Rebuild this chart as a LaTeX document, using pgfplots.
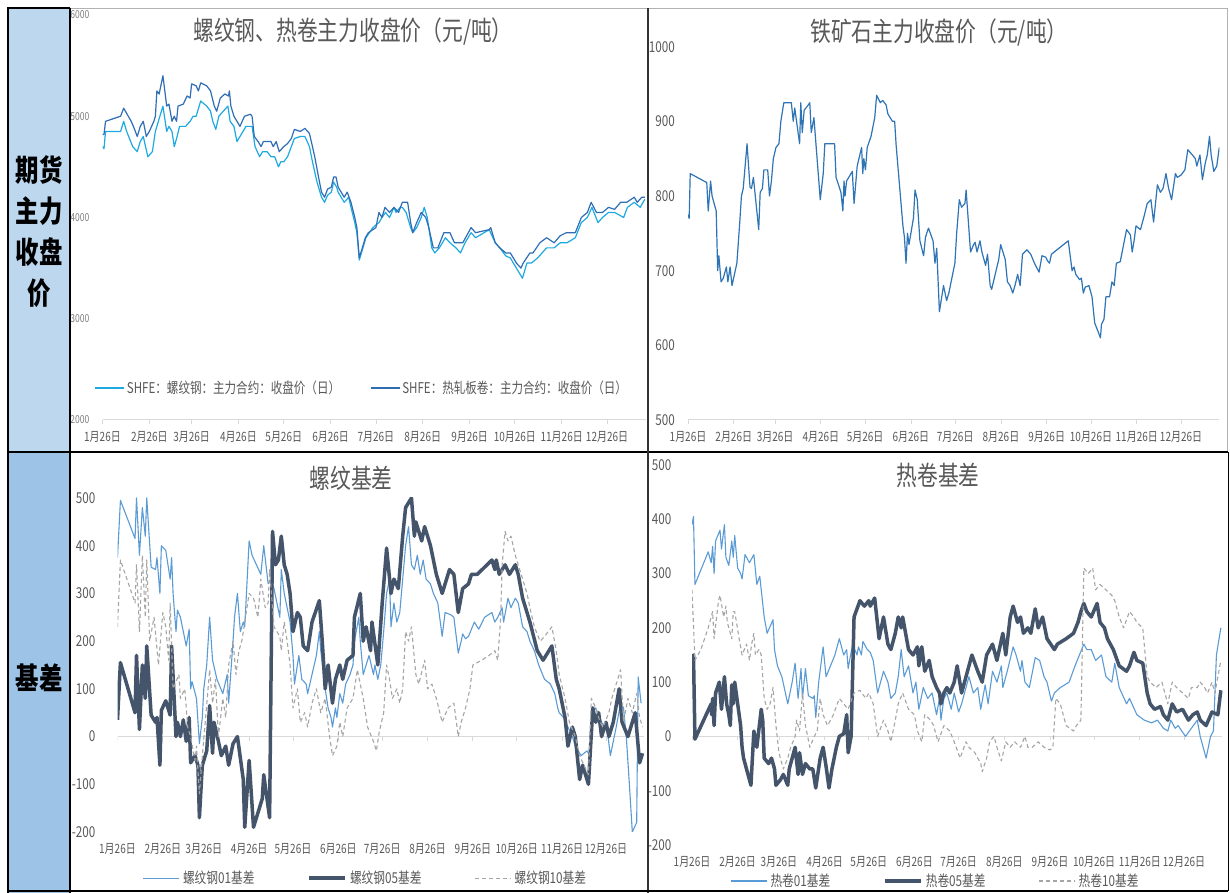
\documentclass[border=0pt]{standalone}
\usepackage{fontspec}
\setmainfont{Noto Sans CJK SC}[FakeStretch=0.78]
\usepackage{pgfplots}
\pgfplotsset{compat=1.18}
\definecolor{rebar}{HTML}{1FA9E1}
\definecolor{hrc}{HTML}{2F6EB5}
\definecolor{ore}{HTML}{2F74B5}
\definecolor{b01}{HTML}{5B9BD5}
\definecolor{b05}{HTML}{44546A}
\definecolor{b10}{HTML}{A5A5A5}
\definecolor{axisgray}{HTML}{D9D9D9}
\definecolor{labelgray}{HTML}{595959}
\definecolor{cellA}{HTML}{BDD7EE}
\definecolor{cellB}{HTML}{9DC3E6}
\newcommand\fs[1]{\fontsize{#1}{#1}\selectfont}

\pgfplotsset{
  panel/.style={
    scale only axis, xmin=0, xmax=360,
    axis x line*=bottom, axis y line*=left,
    x axis line style={draw=axisgray, line width=1pt, -},
    y axis line style={draw=none},
    ytick style={draw=none},
    xtick style={draw=axisgray, line width=0.8pt},
    tick align=outside, major tick length=4pt,
    xtick={0,31,59,90,120,151,181,212,243,273,304,334},
    xticklabels={1月26日,2月26日,3月26日,4月26日,5月26日,6月26日,7月26日,8月26日,9月26日,10月26日,11月26日,12月26日},
    xticklabel style={font=\fs{12.8}, text=labelgray, anchor=center, yshift=-13pt},
    yticklabel style={text=labelgray, anchor=east, inner sep=0pt},
    legend cell align=left,
    every axis plot/.append style={line join=round},
  },
  basis/.style={
    panel,
    ymin=-200, ymax=500,
    ytick={-200,-100,0,100,200,300,400,500},
    yticklabels={-200,-100,0,100,200,300,400,500},
    yticklabel style={font=\fs{15}},
    x axis line style={draw=none},
    xtick style={draw=none},
    legend columns=3,
    legend style={draw=none, fill=none, font=\fs{15}, text=labelgray,
      nodes={inner xsep=3pt, inner ysep=0pt},
      /tikz/every even column/.append style={column sep=50pt}},
    legend image code/.code={\draw[#1] (0pt,0pt) -- (36pt,0pt);},
  },
}

\begin{document}
\begin{tikzpicture}[x=1pt,y=1pt]
\useasboundingbox (0,0) rectangle (1230,893);
\fill[white] (0,0) rectangle (1230,893);
% left column cells
\fill[cellA] (8,441) rectangle (70,885);
\fill[cellB] (8,0) rectangle (70,441);
% chart frames
\draw[gray!60, line width=0.8pt] (70,441) rectangle (648,885);
\draw[gray!60, line width=0.8pt] (648,441) rectangle (1227,885);

% ---------- rebar & hrc prices
\begin{axis}[panel, at={(102.5pt,473pt)}, anchor=south west,
  width=543.8pt, height=405pt,
  ymin=2000, ymax=6000, ytick={2000,3000,4000,5000,6000},
  yticklabels={2000,3000,4000,5000,6000},
  yticklabel style={font=\fs{11}, text=gray, xshift=-9pt},
  legend columns=2,
  legend style={at={(0.477,0.079)}, anchor=center, draw=none, fill=none,
    font=\fs{14.8}, text=labelgray, nodes={inner xsep=2pt, inner ysep=0pt},
    /tikz/every even column/.append style={column sep=28pt}},
  legend image code/.code={\draw[#1] (0pt,0pt) -- (29pt,0pt);},
]
\addplot[rebar, line width=1.2pt] coordinates {
(0,4700)(1,4680)(2,4850)(12,4850)(14,4950)(16,4850)(20,4700)(23,4650)(25,4750)(27,4800)(30,4600)(33,4650)(35,4850)(36,4900)(40,5100)(42.5,4850)(44,4900)(46,4850)(47.5,4700)(49.4,4800)(51,4900)(55,4900)(58,4950)(60,5000)(62,5000)(65,5150)(69,5100)(71.5,5050)(73,4950)(75,4870)(77,5000)(80,5050)(83,5100)(84.5,4950)(87,4900)(89,4750)(91,4800)(95,4900)(99,4900)(101,4700)(104,4600)(106,4650)(109,4650)(111.5,4600)(114,4600)(116.5,4500)(118,4550)(120,4550)(122.5,4600)(125,4700)(127,4780)(131,4800)(134,4800)(137,4700)(139,4550)(142,4350)(145,4200)(147,4150)(149,4220)(151.5,4250)(153,4350)(155,4300)(156,4250)(160,4150)(163,4200)(164.5,4100)(167,3950)(168.4,3850)(170,3580)(172,3680)(174.4,3800)(179,3900)(183,3950)(185,4000)(187.4,4050)(190,4000)(193,4100)(194.3,4050)(197,4100)(198.5,4100)(201,4050)(204,3900)(205.4,3850)(208,3900)(211,4000)(213,4100)(215,4000)(218,3700)(220,3650)(223,3700)(227,3800)(230,3750)(234,3700)(237,3650)(240,3750)(244,3850)(247,3800)(256,3880)(260,3750)(263,3700)(267,3620)(270,3600)(274,3500)(278,3400)(281,3550)(284,3550)(288,3600)(294,3700)(299,3700)(303,3750)(307.5,3750)(313,3800)(317,3950)(321,4000)(324,4100)(328,3950)(331,4000)(335,4050)(339,4050)(345,4000)(347.5,4100)(352,4150)(356,4100)(359,4180)};
\addlegendentry{SHFE：螺纹钢：主力合约：收盘价（日）}
\addplot[hrc, line width=1.2pt] coordinates {
(0,4820)(1,4820)(2,4950)(12,5000)(14,5080)(19,4950)(21,4880)(23,4800)(25,4900)(27,4950)(29,4800)(31,4850)(34,4950)(35,5000)(36,5250)(37.5,5220)(40,5400)(42.5,5100)(44,5120)(46,4950)(47.5,5000)(49,4950)(50,5100)(53.5,5120)(56,5200)(58,5180)(59,5320)(62,5300)(63.5,5250)(65,5330)(69,5300)(71.5,5250)(74,5100)(75.6,5050)(78,5180)(81,5220)(83.4,5200)(84,5250)(85,5100)(87,5000)(89,4950)(91,4900)(94,5000)(98,5020)(99,5000)(100.5,4800)(103,4750)(105,4700)(106.5,4750)(111.5,4750)(113,4700)(115,4750)(117,4650)(120,4700)(122.5,4730)(125,4780)(127,4870)(131,4850)(134,4880)(137,4830)(139,4700)(140.5,4600)(143,4400)(145,4250)(147,4200)(149,4280)(151.5,4300)(153,4400)(154.6,4400)(156,4300)(160,4200)(162,4250)(164.5,4150)(167,4000)(168.4,3900)(170,3600)(172,3700)(174,3800)(176,3850)(181,3900)(183,4050)(185,4000)(187,4100)(190,4050)(193,4100)(196,4050)(198.5,4150)(202,4150)(204,3950)(205.4,3850)(208,3950)(211,4050)(214,4000)(216,3900)(219,3700)(222,3700)(226,3850)(230,3850)(233,3750)(238.5,3750)(244,3900)(247,3850)(256,3880)(257,3900)(260,3750)(263,3700)(267,3650)(270,3650)(274,3550)(277,3500)(278.5,3550)(283,3650)(285,3650)(289.5,3750)(294,3800)(299,3750)(303,3820)(307,3850)(313,3850)(317,4000)(321,4050)(323.5,4150)(327,4050)(331,4050)(335,4100)(339,4080)(343,4150)(347,4150)(352,4200)(354,4150)(357,4200)(359,4200)};
\addlegendentry{SHFE：热轧板卷：主力合约：收盘价（日）}
\end{axis}

% ---------- iron ore
\begin{axis}[panel, at={(688pt,473pt)}, anchor=south west,
  width=531.4pt, height=373.3pt,
  ymin=500, ymax=1000, ytick={500,600,700,800,900,1000},
  yticklabels={500,600,700,800,900,1000},
  yticklabel style={font=\fs{15}, xshift=-9pt},
]
\addplot[ore, line width=1.2pt] coordinates {
(0,775)(0.8,770)(1.5,830)(12.7,818)(13.7,780)(15.3,820)(16.3,800)(19.1,780)(20.1,700)(20.9,720)(22.4,685)(23.9,690)(26,705)(27,685)(28.5,705)(29.8,680)(33.1,710)(34.9,760)(36.2,800)(37.4,810)(40,870)(42,812)(43,810)(44.3,825)(47.9,755)(48.9,805)(50.4,810)(51.4,835)(54,835)(55.2,800)(56.5,820)(57.8,850)(59.6,865)(61.6,870)(62.9,900)(64.9,925)(70,925)(71.3,900)(72.3,918)(75.6,870)(76.4,925)(77.4,885)(78.7,915)(81.5,922)(82.5,925)(83.5,885)(85.3,905)(89.6,795)(91.6,830)(92.7,870)(99.3,870)(100.3,825)(103.6,805)(104.9,780)(105.7,820)(106.4,800)(107.4,820)(111.3,833)(112.5,790)(114.6,840)(117.6,865)(118.4,830)(119.1,850)(120.2,835)(121.4,865)(124,880)(126.5,905)(127.8,935)(130.3,925)(131.9,928)(134.2,922)(135.4,910)(138.5,900)(140,900)(141,868)(145.6,760)(146.6,745)(147.7,710)(148.7,750)(149.7,735)(152.7,770)(153.8,808)(155.3,795)(157.1,740)(159.6,720)(160.9,745)(162.9,757)(166,740)(167.3,710)(168.5,730)(170.3,645)(173.1,680)(175.2,660)(176.7,670)(180.8,710)(182,750)(183.8,795)(185.3,785)(187.6,790)(188.4,808)(191.4,725)(193.5,735)(194.5,738)(195.8,725)(197.8,740)(199.1,725)(201.6,707)(202.9,722)(204.7,680)(205.7,675)(209.3,705)(210.5,715)(211.8,735)(214.9,715)(216.4,685)(218.2,680)(220,670)(221.5,680)(223.3,695)(225,680)(226.6,722)(229.6,728)(232.2,722)(234.7,710)(237.8,698)(239.8,720)(242.4,718)(243.6,713)(244.9,710)(246.2,722)(257.6,740)(258.9,720)(260.2,700)(261.5,705)(262.7,695)(265.3,688)(266.5,690)(267.8,670)(269.1,678)(271.6,680)(273.7,665)(275.5,630)(277.5,620)(279.4,610)(280.1,628)(281.8,635)(283.1,665)(285.6,665)(287.2,685)(288.7,680)(290.2,710)(292.8,712)(297.1,755)(299.7,748)(300.9,725)(302.2,740)(303.5,760)(306.5,755)(308.6,770)(311.1,790)(313.6,795)(315.4,765)(318,815)(320,805)(321.8,810)(323.8,830)(325.6,810)(327.6,795)(330.2,830)(331.5,825)(334,828)(336.6,835)(338.6,862)(341.7,855)(343.7,850)(344.7,840)(346.8,855)(348.5,822)(350.5,845)(351.8,855)(353.3,880)(354.4,855)(356.2,833)(358.2,840)(359.9,865)};
\end{axis}

% ---------- rebar basis
\begin{axis}[basis, at={(117.5pt,61pt)}, anchor=south west,
  width=526.5pt, height=334pt,
  yticklabel style={xshift=-18pt},
  legend style={at={(0.472,-0.138)}, anchor=center},
]
\draw[axisgray, line width=1.2pt] (axis cs:0,0) -- (axis cs:360,0);
\pgfplotsinvokeforeach{0,31,59,90,120,151,181,212,243,273,304,334}{
  \draw[axisgray, line width=0.8pt] (axis cs:#1,0) -- ++(0pt,-4pt);}
\addplot[b01, line width=1.1pt] coordinates {
(0,375)(2,495)(12,415)(13,500)(15,380)(17,480)(19,420)(20,500)(23,355)(26,350)(27,375)(29,300)(30,400)(33,390)(36,330)(37,375)(38,300)(40,220)(41,265)(43,250)(47,190)(49,225)(50,100)(51,115)(54,80)(56,-15)(58,40)(59,100)(61,150)(63,250)(65,160)(68,120)(72,90)(75,130)(76,70)(79,200)(80,250)(82,300)(84,220)(86,240)(87,230)(90,410)(92,380)(98,340)(100,400)(103,320)(105,330)(107,310)(109,280)(111,250)(112,350)(114,300)(116,270)(118,240)(120,170)(121,110)(124,170)(126,120)(129,110)(130,90)(133,130)(136,170)(138,220)(139,180)(142,100)(144,60)(146,40)(147,20)(149,60)(150,40)(152,90)(154,70)(156,110)(159,130)(161,150)(162,200)(165,250)(166,200)(168,130)(172,170)(175,130)(176,150)(178,120)(180,150)(182,220)(184,300)(186,330)(187,230)(189,280)(191,240)(193,260)(195,330)(197,400)(199,440)(201,360)(203,350)(205,380)(207,340)(209,370)(211,330)(214,320)(216,300)(219,280)(222,210)(224,260)(228,255)(230,250)(233,175)(235,200)(236,215)(238,205)(240,210)(244,240)(247,225)(251,250)(256,260)(258,240)(260,250)(263,270)(264,240)(267,290)(269,270)(272,290)(274,280)(277,230)(280,220)(282,200)(285,180)(288,150)(292,120)(296,110)(299,90)(301,60)(302,50)(305,40)(308,20)(311,0)(313,-20)(317,-40)(321,-30)(323,-40)(325,50)(327,60)(331,30)(335,10)(337,-40)(341,20)(344,70)(346,60)(348,-5)(350,-100)(352,-200)(355,-180)(356,125)(358,70)};
\addlegendentry{螺纹钢01基差}
\addplot[b05, line width=3.5pt] coordinates {
(0,35)(2,155)(12,50)(13,170)(15,15)(17,150)(19,80)(20,190)(23,45)(26,30)(27,40)(29,-60)(30,55)(33,75)(36,45)(37,190)(40,0)(41,30)(43,0)(45,35)(47,-10)(49,40)(50,-55)(53,-40)(55,-60)(56,-170)(58,-60)(61,-30)(63,65)(65,-35)(66,30)(69,-10)(71,-40)(74,-20)(76,-60)(79,-15)(82,0)(86,-90)(87,-190)(90,-50)(93,-190)(99,-130)(100,-80)(104,-170)(106,430)(108,360)(110,370)(112,420)(114,360)(116,340)(118,300)(120,220)(123,260)(125,250)(127,190)(130,180)(133,240)(138,285)(140,200)(142,100)(144,150)(147,70)(149,120)(152,150)(154,120)(157,160)(161,170)(162,250)(166,300)(168,200)(170,230)(173,180)(174,240)(178,150)(181,280)(184,395)(187,300)(189,330)(192,310)(195,420)(197,480)(201,500)(203,420)(204,450)(208,410)(210,440)(214,400)(218,340)(222,300)(227,350)(230,340)(233,260)(236,310)(240,320)(242,340)(246,340)(256,370)(258,350)(259,370)(261,340)(265,360)(268,340)(272,360)(274,340)(277,290)(282,240)(287,180)(291,160)(297,190)(300,120)(302,100)(306,40)(308,-20)(311,20)(313,0)(316,-90)(318,-60)(322,-100)(325,60)(327,30)(329,50)(331,0)(334,30)(336,0)(339,30)(343,100)(345,30)(349,0)(354,50)(357,-55)(359,-35)};
\addlegendentry{螺纹钢05基差}
\addplot[b10, line width=1.1pt, dash pattern=on 4pt off 3pt] coordinates {
(0,230)(2,370)(12,280)(13,360)(15,220)(17,380)(19,250)(20,370)(22,200)(25,250)(28,150)(31,260)(33,230)(35,160)(36,280)(38,100)(42,130)(43,80)(46,100)(48,20)(50,0)(53,-50)(54,-20)(56,-120)(58,-40)(60,30)(63,140)(65,70)(67,120)(69,0)(72,80)(74,40)(76,150)(79,200)(81,130)(83,180)(85,200)(90,300)(93,290)(96,250)(98,330)(101,270)(103,280)(104,350)(107,230)(111,210)(112,180)(114,240)(116,200)(118,150)(120,60)(123,100)(125,30)(128,50)(130,20)(133,70)(136,100)(139,50)(142,80)(145,0)(147,-40)(150,-20)(152,30)(154,0)(157,60)(161,80)(164,140)(168,80)(171,20)(175,-10)(177,-30)(179,10)(182,50)(184,150)(186,120)(188,80)(191,100)(193,70)(195,100)(197,220)(199,200)(201,230)(204,130)(206,110)(210,160)(212,100)(215,110)(218,80)(222,30)(226,60)(230,70)(233,0)(235,30)(238,60)(241,100)(243,150)(249,160)(254,170)(258,180)(260,160)(262,250)(263,360)(265,430)(267,410)(269,420)(272,380)(276,340)(280,300)(282,270)(285,230)(289,200)(292,210)(297,230)(300,180)(302,130)(306,80)(309,30)(313,0)(316,-40)(319,-60)(322,-80)(324,80)(327,60)(330,30)(332,20)(336,50)(338,80)(344,140)(346,30)(349,80)(352,50)(355,90)(357,40)(359,20)};
\addlegendentry{螺纹钢10基差}
\end{axis}

% ---------- hrc basis
\begin{axis}[basis, at={(692pt,48pt)}, anchor=south west,
  width=530.3pt, height=380pt,
  yticklabel style={xshift=-16.5pt},
  legend style={at={(0.460,-0.0947)}, anchor=center},
]
\draw[axisgray, line width=1.2pt] (axis cs:0,0) -- (axis cs:360,0);
\pgfplotsinvokeforeach{0,31,59,90,120,151,181,212,243,273,304,334}{
  \draw[axisgray, line width=0.8pt] (axis cs:#1,0) -- ++(0pt,-4pt);}
\addplot[b01, line width=1.1pt] coordinates {
(0,390)(1,405)(2,280)(11,340)(13,320)(14,350)(15,300)(16,360)(19,380)(20,345)(22,390)(23,330)(25,315)(27,360)(28,330)(29,370)(31,310)(33,300)(34,290)(36,335)(39,320)(42,335)(44,280)(46,295)(49,220)(51,190)(55,215)(56,160)(58,130)(61,110)(65,60)(68,100)(70,135)(72,70)(74,125)(75,70)(77,125)(79,75)(82,70)(83,75)(84,35)(86,100)(89,165)(91,110)(94,130)(97,150)(100,180)(103,150)(105,160)(106,125)(109,170)(112,150)(113,165)(115,150)(116,175)(119,160)(121,155)(123,140)(126,80)(130,120)(133,100)(135,70)(138,80)(140,110)(142,160)(144,110)(147,130)(150,80)(152,100)(154,50)(157,90)(160,70)(163,80)(166,40)(168,70)(169,30)(171,70)(173,80)(176,50)(178,80)(181,45)(183,60)(188,110)(191,80)(194,90)(196,50)(199,95)(201,60)(204,120)(207,100)(210,130)(211,90)(214,120)(218,165)(220,150)(223,120)(224,140)(226,100)(229,90)(233,145)(236,140)(239,110)(241,100)(244,65)(246,80)(250,90)(256,100)(260,130)(263,150)(266,170)(268,160)(271,160)(274,140)(278,150)(281,110)(285,100)(287,135)(290,90)(295,60)(297,70)(302,40)(307,30)(312,25)(316,30)(320,15)(323,10)(325,30)(328,15)(330,20)(335,0)(343,30)(345,0)(349,-40)(352,0)(354,10)(356,150)(359,200)};
\addlegendentry{热卷01基差}
\addplot[b05, line width=3.5pt] coordinates {
(0,140)(1,150)(2,-5)(13,60)(13.4,40)(14,70)(15,20)(16,80)(18.5,100)(20,50)(22,110)(23.5,60)(25,40)(26,20)(27,95)(28,60)(29,100)(31,60)(33,20)(34,-20)(35,-40)(37,-60)(40,-90)(41,-40)(42,10)(44,-20)(47,50)(48,30)(49,-40)(52,-50)(54,-40)(56,-60)(57,-90)(60,-80)(62,-70)(65,-90)(66,-60)(68,-40)(70,-20)(72,-70)(73,-30)(75,-70)(77,-50)(80,-60)(82,-60)(84,-95)(87,-40)(89,-20)(91,-55)(93,-95)(95,-60)(98,-20)(100,0)(103,5)(105,40)(106,-30)(108,0)(110,220)(114,250)(117,240)(120,250)(121,240)(124,255)(127,180)(130,220)(133,170)(135,160)(138,190)(140,220)(142,200)(143,220)(147,160)(150,150)(153,165)(154,130)(156,165)(158,120)(161,140)(163,110)(166,90)(168,80)(169,60)(171,80)(173,90)(175,80)(178,100)(180,130)(183,80)(186,110)(190,150)(194,120)(197,100)(200,150)(204,170)(207,140)(211,190)(213,150)(216,220)(218,240)(221,210)(223,220)(225,190)(228,200)(230,190)(233,235)(235,200)(238,220)(241,180)(246,160)(248,170)(254,180)(259,190)(262,210)(264,230)(266,245)(268,230)(271,220)(275,245)(277,210)(280,200)(282,180)(286,160)(290,130)(295,120)(297,130)(300,155)(302,140)(306,135)(309,80)(311,60)(314,50)(318,55)(320,40)(323,30)(326,60)(329,45)(333,50)(337,30)(340,40)(343,45)(345,30)(349,20)(353,45)(357,40)(359,85)};
\addlegendentry{热卷05基差}
\addplot[b10, line width=1.1pt, dash pattern=on 4pt off 3pt] coordinates {
(0,270)(2,140)(6,160)(11,200)(14,230)(15,180)(18,250)(19,260)(21.5,220)(23,240)(24,210)(27,180)(28,230)(29,230)(32,180)(34,150)(37,170)(39,140)(40.5,170)(42,190)(43,150)(45.5,160)(47,150)(49,70)(51,50)(53,60)(55,90)(57,20)(59,-30)(62,-60)(65,-40)(67,-20)(70,0)(71,30)(73,10)(75,80)(77,20)(80,-20)(83,0)(85,10)(87,70)(89,40)(92,20)(96,40)(100,70)(103,60)(106,50)(110,80)(114,85)(118,70)(120,80)(123,60)(126,0)(130,30)(133,10)(135,-10)(138,30)(140,60)(143,80)(147,50)(151,40)(153,10)(156,-10)(158,40)(162,30)(164,20)(167,-10)(171,20)(175,10)(178,-10)(182,-40)(186,-10)(188,-20)(192,-30)(196,-50)(197,-65)(200,-40)(202,-10)(205,0)(207,-20)(210,-45)(213,-10)(216,-20)(219,-10)(223,-20)(226,0)(228,-20)(231,-20)(235,-10)(239,-20)(243,-25)(245,-20)(247,70)(250,60)(254,20)(259,10)(261,20)(264,30)(266,310)(269,300)(272,310)(274,270)(277,280)(281,270)(285,260)(287,250)(290,220)(293,200)(297,230)(300,220)(302,210)(306,200)(309,110)(311,100)(315,90)(319,100)(323,60)(326,100)(329,90)(333,80)(337,70)(339,90)(343,90)(345,100)(348,90)(350,80)(353,100)(355,80)(359,140)};
\addlegendentry{热卷10基差}
\end{axis}

% titles
\node[font=\fs{26.6}, text=labelgray] at (353,861) {螺纹钢、热卷主力收盘价（元/吨）};
\node[font=\fs{26.6}, text=labelgray] at (939,860) {铁矿石主力收盘价（元/吨）};
\node[font=\fs{26.6}, text=labelgray] at (351,415) {螺纹基差};
\node[font=\fs{26.6}, text=labelgray] at (938,418) {热卷基差};

% side labels
\node[font=\fs{30}\bfseries] at (39,723) {期货};
\node[font=\fs{30}\bfseries] at (39,682) {主力};
\node[font=\fs{30}\bfseries] at (39,641) {收盘};
\node[font=\fs{30}\bfseries] at (39,600) {价};
\node[font=\fs{30}\bfseries] at (39,215) {基差};

% borders
\draw[black, line width=2pt] (8,0) -- (8,885) -- (70,885);
\draw[black, line width=2pt] (70,0) -- (70,885);
\draw[black, line width=2.5pt] (8,441) -- (1228,441);
\draw[black!80, line width=2pt] (648,0) -- (648,885);
\draw[black, line width=2pt] (8,2) -- (1228,2);
\draw[black, line width=1pt] (1228,2) -- (1228,441);
\end{tikzpicture}
\end{document}
